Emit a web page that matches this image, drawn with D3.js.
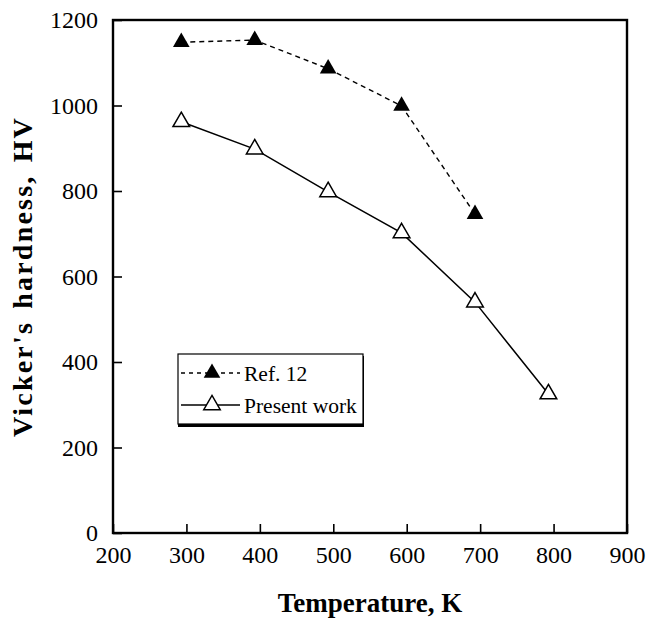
<!DOCTYPE html>
<html><head><meta charset="utf-8">
<script src="https://cdn.jsdelivr.net/npm/d3@7"></script>
<style>body{margin:0;background:#fff}svg{display:block}text{font-family:"Liberation Serif","Times New Roman",serif;fill:#000}</style>
</head><body><svg id="c" width="647" height="618"></svg>
<script>
const temps = [293, 393, 493, 593, 693, 793];
const presentWork = [962, 898, 798, 702, 540, 325];
const refTemps = [293, 393, 493, 593, 693];
const ref12 = [1148, 1153, 1086, 999, 746];
const xTicks = [200, 300, 400, 500, 600, 700, 800, 900];
const yTicks = [0, 200, 400, 600, 800, 1000, 1200];
const seriesNames = ["Ref. 12", "Present work"];

const svg = d3.select("#c");
const L = 113, R = 627, T = 20, B = 533;
const x = d3.scaleLinear().domain([200, 900]).range([L, R]);
const y = d3.scaleLinear().domain([0, 1200]).range([B, T]);

svg.append("g").attr("transform", `translate(0,${B})`)
  .call(d3.axisBottom(x).tickValues(xTicks).tickSizeInner(-9).tickSizeOuter(0).tickPadding(13).tickFormat(d3.format("d")))
  .call(g => { g.select(".domain").remove(); g.selectAll("line").attr("stroke", "#000").attr("stroke-width", 1.6);
    g.selectAll("text").attr("font-size", 24).attr("font-family", "Liberation Serif").attr("fill", "#000"); });
svg.append("g").attr("transform", `translate(${L},0)`)
  .call(d3.axisLeft(y).tickValues(yTicks).tickSizeInner(-9).tickSizeOuter(0).tickPadding(15).tickFormat(d3.format("d")))
  .call(g => { g.select(".domain").remove(); g.selectAll("line").attr("stroke", "#000").attr("stroke-width", 1.6);
    g.selectAll("text").attr("font-size", 24).attr("font-family", "Liberation Serif").attr("fill", "#000"); });

svg.append("rect").attr("x", L).attr("y", T).attr("width", R - L).attr("height", B - T)
  .attr("fill", "none").attr("stroke", "#000").attr("stroke-width", 2.4);

const line = d3.line().x(d => x(d[0])).y(d => y(d[1]));
const pw = temps.map((t, i) => [t, presentWork[i]]);
const rf = refTemps.map((t, i) => [t, ref12[i]]);

svg.append("path").attr("d", line(rf)).attr("fill", "none").attr("stroke", "#000").attr("stroke-width", 1.4).attr("stroke-dasharray", "5,4");
svg.append("path").attr("d", line(pw)).attr("fill", "none").attr("stroke", "#000").attr("stroke-width", 1.5);

const tri = d3.symbol().type(d3.symbolTriangle).size(120);
svg.selectAll(".rf").data(rf).join("path").attr("class", "rf")
  .attr("transform", d => `translate(${x(d[0])},${y(d[1])})`).attr("d", tri).attr("fill", "#000");
svg.selectAll(".pw").data(pw).join("path").attr("class", "pw")
  .attr("transform", d => `translate(${x(d[0])},${y(d[1])})`).attr("d", tri).attr("fill", "#fff").attr("stroke", "#000").attr("stroke-width", 1.5);

svg.append("text").attr("x", (L + R) / 2).attr("y", 612).attr("text-anchor", "middle")
  .attr("font-size", 27).attr("font-weight", "bold").text("Temperature, K");
svg.append("text").attr("transform", `translate(32,${(T + B) / 2}) rotate(-90)`).attr("text-anchor", "middle")
  .attr("font-size", 28).attr("font-weight", "bold").attr("letter-spacing", 2.2).attr("word-spacing", 3).text("Vicker's hardness, HV");

const lg = svg.append("g");
lg.append("rect").attr("x", 178).attr("y", 356).attr("width", 186).attr("height", 71).attr("fill", "#000");
lg.append("rect").attr("x", 178).attr("y", 354).attr("width", 185).attr("height", 70).attr("fill", "#fff").attr("stroke", "#000").attr("stroke-width", 1.2);
const rows = [{ name: seriesNames[0], dash: "4,4", fill: "#000", yy: 373 }, { name: seriesNames[1], dash: null, fill: "#fff", yy: 405 }];
rows.forEach(r => {
  lg.append("line").attr("x1", 181).attr("x2", 240).attr("y1", r.yy).attr("y2", r.yy).attr("stroke", "#000").attr("stroke-width", 1.3).attr("stroke-dasharray", r.dash);
  lg.append("path").attr("transform", `translate(212,${r.yy})`).attr("d", tri).attr("fill", r.fill).attr("stroke", r.fill === "#fff" ? "#000" : null).attr("stroke-width", 1.4);
  lg.append("text").attr("x", 244).attr("y", r.yy + 8).attr("font-size", 21.5).text(r.name);
});
</script></body></html>
